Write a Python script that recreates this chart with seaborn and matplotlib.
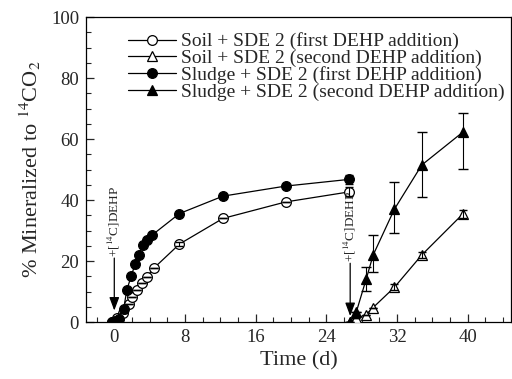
import numpy as np
import pandas as pd
import matplotlib
matplotlib.use("Agg")
import matplotlib.pyplot as plt
from matplotlib.ticker import MultipleLocator
import seaborn as sns

# ---- data ----
soil1_t = [-0.26, 0.3, 0.98, 1.62, 2.0, 2.56, 3.13, 3.7, 4.44, 7.38, 12.3, 19.4, 26.6]
soil1_y = [0.0, 1.2, 2.9, 6.1, 8.3, 10.5, 12.7, 14.9, 17.6, 25.6, 34.0, 39.4, 42.7]
soil1_e = [0, 0, 0, 0, 0, 0, 0, 0, 0, 0.8, 0, 0, 1.5]

soil2_t = [26.7, 27.4, 28.5, 29.3, 31.7, 34.8, 39.5]
soil2_y = [0.0, 1.2, 2.5, 4.8, 11.4, 22.0, 35.6]
soil2_e = [0, 0, 0, 0, 1.0, 1.0, 1.3]

sludge1_t = [-0.26, 0.1, 0.5, 1.05, 1.43, 1.92, 2.37, 2.75, 3.3, 3.7, 4.26, 7.38, 12.3, 19.4, 26.6]
sludge1_y = [0.0, 0.3, 1.0, 4.2, 10.7, 15.1, 19.2, 22.0, 25.2, 26.9, 28.5, 35.6, 41.3, 44.6, 46.8]
sludge1_e = [0, 0, 0, 0, 0, 0, 0, 0, 0, 0, 0, 0, 0, 0, 1.5]

sludge2_t = [26.7, 27.4, 28.5, 29.3, 31.7, 34.8, 39.5]
sludge2_y = [0.0, 3.4, 14.0, 22.0, 37.0, 51.5, 62.4]
sludge2_lo = [0, 0, 3.7, 5.5, 7.9, 10.4, 12.3]
sludge2_hi = [0, 0, 4.1, 6.5, 9.0, 10.9, 6.0]

labels = ["Soil + SDE 2 (first DEHP addition)",
          "Soil + SDE 2 (second DEHP addition)",
          "Sludge + SDE 2 (first DEHP addition)",
          "Sludge + SDE 2 (second DEHP addition)"]
x_ticks = [0, 8, 16, 24, 32, 40]
y_ticks = [0, 20, 40, 60, 80, 100]
arrow_x = [0.0, 26.7]

sns.set_style("ticks")
plt.rcParams["font.family"] = ["Liberation Serif", "DejaVu Serif"]
plt.rcParams["mathtext.fontset"] = "stix"

fig = plt.figure(figsize=(5.12, 3.79), dpi=100)
ax = fig.add_axes([0.168, 0.150, 0.830, 0.805])

series = [
    (soil1_t, soil1_y, "o", "white", labels[0]),
    (soil2_t, soil2_y, "^", "white", labels[1]),
    (sludge1_t, sludge1_y, "o", "black", labels[2]),
    (sludge2_t, sludge2_y, "^", "black", labels[3]),
]
frames = []
for t, y, m, fc, lab in series:
    frames.append(pd.DataFrame({"t": t, "y": y, "series": lab}))
df = pd.concat(frames, ignore_index=True)

for t, y, m, fc, lab in series:
    sub = df[df["series"] == lab]
    sns.lineplot(data=sub, x="t", y="y", ax=ax, color="black", lw=0.9,
                 marker=m, markersize=7 if m == "o" else 7.5,
                 markerfacecolor=fc, markeredgecolor="black", markeredgewidth=0.9,
                 label=lab, sort=False, zorder=3)

# error bars
ax.errorbar(soil1_t, soil1_y, yerr=soil1_e, fmt="none", ecolor="black", elinewidth=0.8, capsize=3, zorder=4)
ax.errorbar(soil2_t, soil2_y, yerr=soil2_e, fmt="none", ecolor="black", elinewidth=0.8, capsize=3, zorder=4)
ax.errorbar(sludge1_t, sludge1_y, yerr=sludge1_e, fmt="none", ecolor="black", elinewidth=0.8, capsize=3, zorder=2)
ax.errorbar(sludge2_t, sludge2_y, yerr=[sludge2_lo, sludge2_hi], fmt="none", ecolor="black",
            elinewidth=0.8, capsize=3.5, zorder=2)

# arrows and annotation text
for ax_x, (txt_lo, arr_tip) in zip(arrow_x, [(21.0, 3.8), (19.3, 2.0)]):
    ax.annotate("", xy=(ax_x, arr_tip), xytext=(ax_x, txt_lo),
                arrowprops=dict(arrowstyle="-|>,head_length=0.8,head_width=0.3",
                                color="black", lw=0.9, shrinkA=0, shrinkB=0))
    ax.text(ax_x, txt_lo + 0.3, "+[$^{14}$C]DEHP", rotation=90, ha="center", va="bottom",
            fontsize=9.5)

ax.set_xlim(-3.2, 44.9)
ax.set_ylim(0, 100)
ax.set_xticks(x_ticks)
ax.set_yticks(y_ticks)
ax.xaxis.set_minor_locator(MultipleLocator(2))
ax.yaxis.set_minor_locator(MultipleLocator(5))
ax.tick_params(which="both", direction="in", top=False, right=False, labelsize=13.5, pad=5)
ax.tick_params(which="major", length=6, width=0.9)
ax.tick_params(which="minor", length=3.5, width=0.8)
for s in ax.spines.values():
    s.set_linewidth(0.9)
    s.set_color("black")

ax.set_xlabel("Time (d)", fontsize=16, labelpad=4)
ax.set_ylabel("% Mineralized to $^{14}$CO$_2$", fontsize=16, labelpad=6)

leg = ax.legend(loc="upper left", bbox_to_anchor=(0.08, 0.975), frameon=False,
                fontsize=14, handlelength=2.5, handletextpad=0.25, labelspacing=-0.05,
                borderaxespad=0)

fig.savefig("out.png", dpi=100)
